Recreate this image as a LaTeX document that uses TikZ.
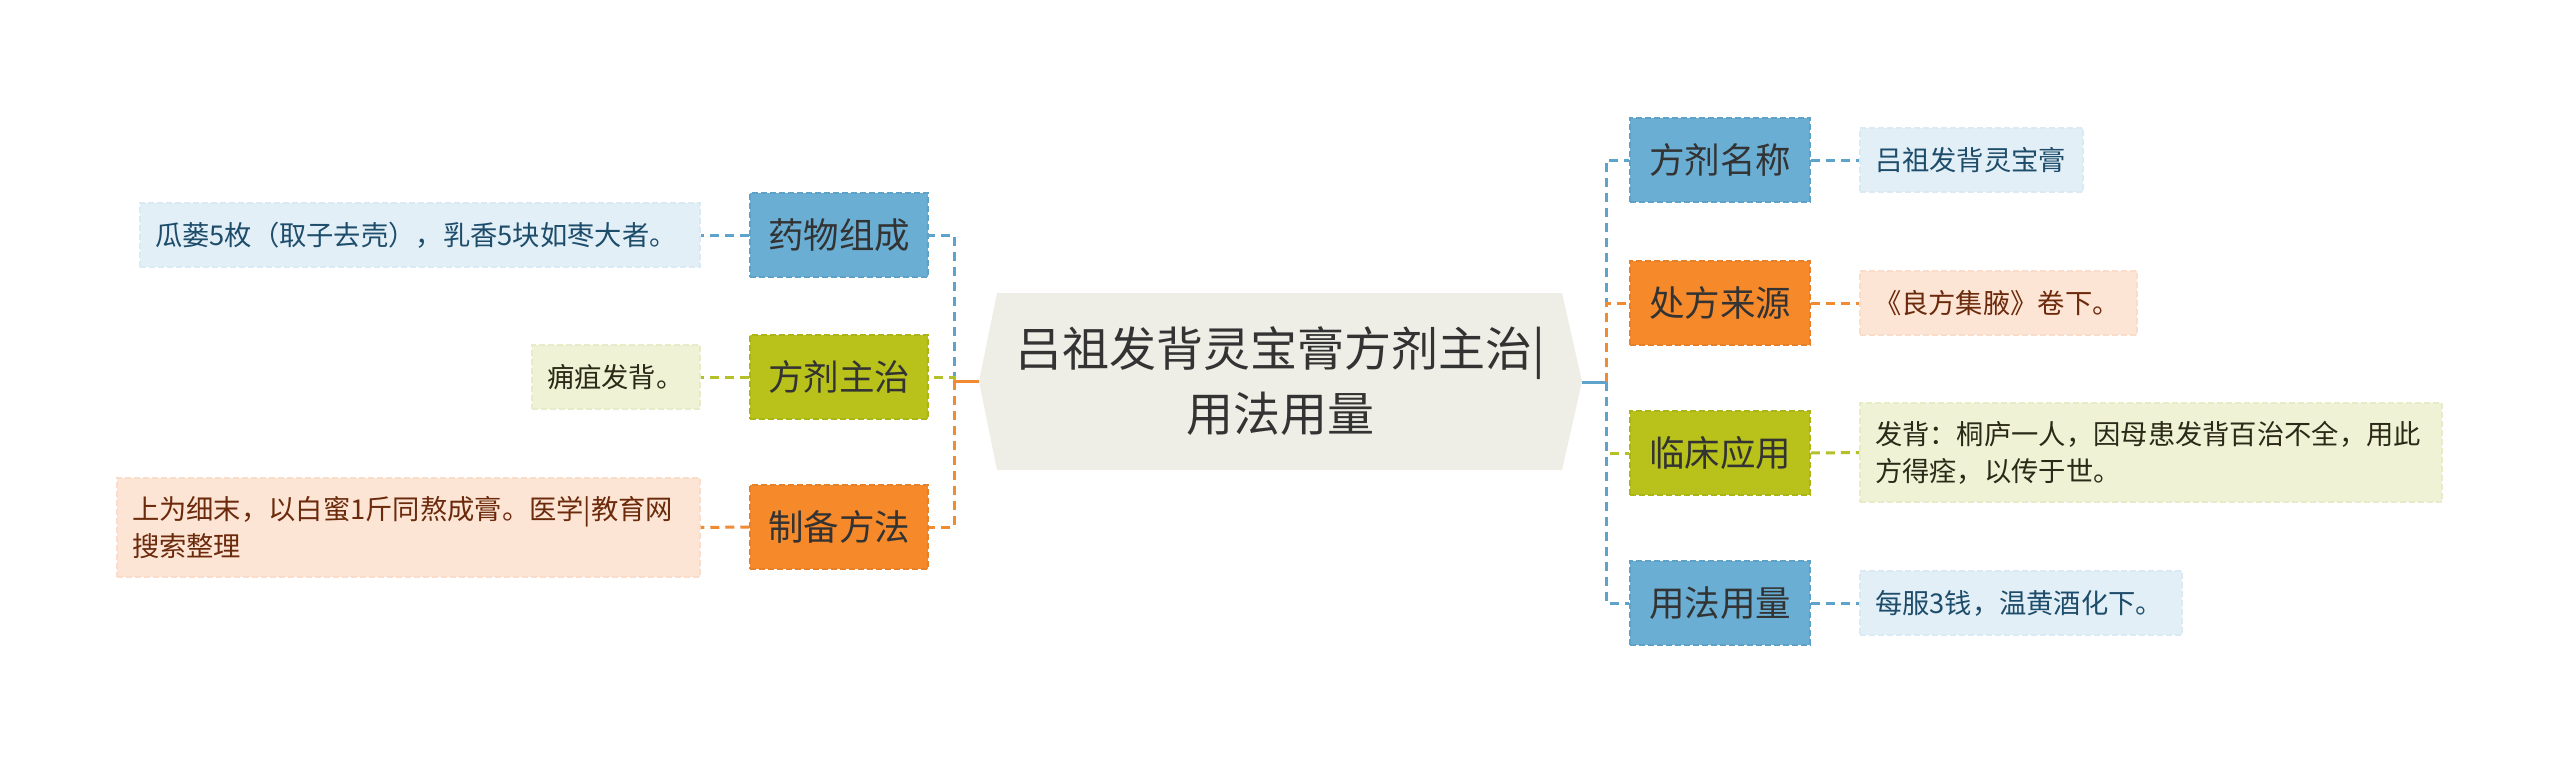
\documentclass[tikz,border=0pt]{standalone}
\usepackage{fontspec}
\setmainfont{Noto Sans CJK SC}
\definecolor{blueT}{HTML}{6AAED4}
\definecolor{blueTB}{HTML}{5FA2C9}
\definecolor{orT}{HTML}{F68A2B}
\definecolor{orTB}{HTML}{E8802A}
\definecolor{grT}{HTML}{B8C21A}
\definecolor{grTB}{HTML}{ABB516}
\definecolor{blueL}{HTML}{E2EFF7}
\definecolor{blueLB}{HTML}{D9EAF4}
\definecolor{orL}{HTML}{FDE5D5}
\definecolor{orLB}{HTML}{F9DCCA}
\definecolor{grL}{HTML}{EFF2D4}
\definecolor{grLB}{HTML}{E7ECC8}
\definecolor{blueLn}{HTML}{5DA3CB}
\definecolor{orLn}{HTML}{F08A33}
\definecolor{grLn}{HTML}{B3C02A}
\definecolor{rootF}{HTML}{EEEEE6}
\definecolor{txt}{HTML}{333333}
\definecolor{blueTx}{HTML}{1E4D6B}
\definecolor{orTx}{HTML}{6B2A0C}
\definecolor{grTx}{HTML}{2A2A18}
\tikzset{
  topic/.style={draw, line width=1.5pt, dash pattern=on 6pt off 3pt, minimum height=84pt, inner sep=0pt, font=\fontsize{35.5}{40}\selectfont, text=txt},
  leaf/.style={draw, line width=1.5pt, dash pattern=on 6pt off 3pt, inner xsep=15pt, inner ysep=0pt, align=left, font=\fontsize{27.3}{37}\selectfont},
  link/.style={line width=3pt, dash pattern=on 9pt off 6pt},
  stub/.style={line width=3pt}
}
\begin{document}
\begin{tikzpicture}[x=1pt,y=-1pt]
\useasboundingbox[fill=white] (0,0) rectangle (2560,763);
% root
\fill[rootF] (979,381.5) -- (997,293) -- (1562,293) -- (1582,381.5) -- (1562,470) -- (997,470) -- cycle;
\node[font=\fontsize{47}{65}\selectfont, align=center, text=txt] (root) at (1280.5,381.5) {吕祖发背灵宝膏方剂主治|\\用法用量};
\coordinate (rootW) at (979,381);
\coordinate (rootE) at (1582,382);
\coordinate (jL) at (954,381);
\coordinate (jR) at (1606,382);
% left topics
\node[topic, fill=blueT, draw=blueTB, minimum width=178pt] (t1) at (839,235) {药物组成};
\node[topic, fill=grT, draw=grTB, minimum width=178pt] (t2) at (839,377) {方剂主治};
\node[topic, fill=orT, draw=orTB, minimum width=178pt] (t3) at (839,527) {制备方法};
% left leaves
\node[leaf, fill=blueL, draw=blueLB, text=blueTx, text width=530pt, minimum height=64pt] (l1) at (420,235) {瓜蒌5枚（取子去壳），乳香5块如枣大者。};
\node[leaf, fill=grL, draw=grLB, text=grTx, text width=138pt, minimum height=64pt] (l2) at (616,377) {痈疽发背。};
\node[leaf, fill=orL, draw=orLB, text=orTx, text width=553pt, minimum height=99pt] (l3) at (408.5,527.5) {上为细末，以白蜜1斤同熬成膏。医学|教育网\\搜索整理};
% right topics
\node[topic, fill=blueT, draw=blueTB, minimum width=180pt] (s1) at (1720,160) {方剂名称};
\node[topic, fill=orT, draw=orTB, minimum width=180pt] (s2) at (1720,303) {处方来源};
\node[topic, fill=grT, draw=grTB, minimum width=180pt] (s3) at (1720,453) {临床应用};
\node[topic, fill=blueT, draw=blueTB, minimum width=180pt] (s4) at (1720,603) {用法用量};
% right leaves
\node[leaf, fill=blueL, draw=blueLB, text=blueTx, text width=193pt, minimum height=64pt] (r1) at (1971.5,160) {吕祖发背灵宝膏};
\node[leaf, fill=orL, draw=orLB, text=orTx, inner xsep=14pt, text width=249pt, minimum height=64pt] (r2) at (1998.5,303) {《良方集腋》卷下。};
\node[leaf, fill=grL, draw=grLB, text=grTx, text width=552pt, minimum height=99pt] (r3) at (2151,452.5) {发背：桐庐一人，因母患发背百治不全，用此\\方得痊，以传于世。};
\node[leaf, fill=blueL, draw=blueLB, text=blueTx, text width=292pt, minimum height=64pt] (r4) at (2021,603) {每服3钱，温黄酒化下。};
% left connectors
\draw[link, blueLn] (jL) |- (t1.east);
\draw[link, grLn] (jL) |- (t2.east);
\draw[link, orLn] (jL) |- (t3.east);
\draw[stub, orLn] (rootW) -- (jL);
\draw[link, blueLn] (t1.west) -- (l1.east);
\draw[link, grLn] (t2.west) -- (l2.east);
\draw[link, orLn] (t3.west) -- (l3.east);
% right connectors
\draw[link, blueLn] (jR) |- (s1.west);
\draw[link, orLn] (jR) |- (s2.west);
\draw[link, grLn] (jR) |- (s3.west);
\draw[link, blueLn] (jR) |- (s4.west);
\draw[stub, blueLn] (rootE) -- (jR);
\draw[link, blueLn] (s1.east) -- (r1.west);
\draw[link, orLn] (s2.east) -- (r2.west);
\draw[link, grLn] (s3.east) -- (r3.west);
\draw[link, blueLn] (s4.east) -- (r4.west);
\end{tikzpicture}
\end{document}
